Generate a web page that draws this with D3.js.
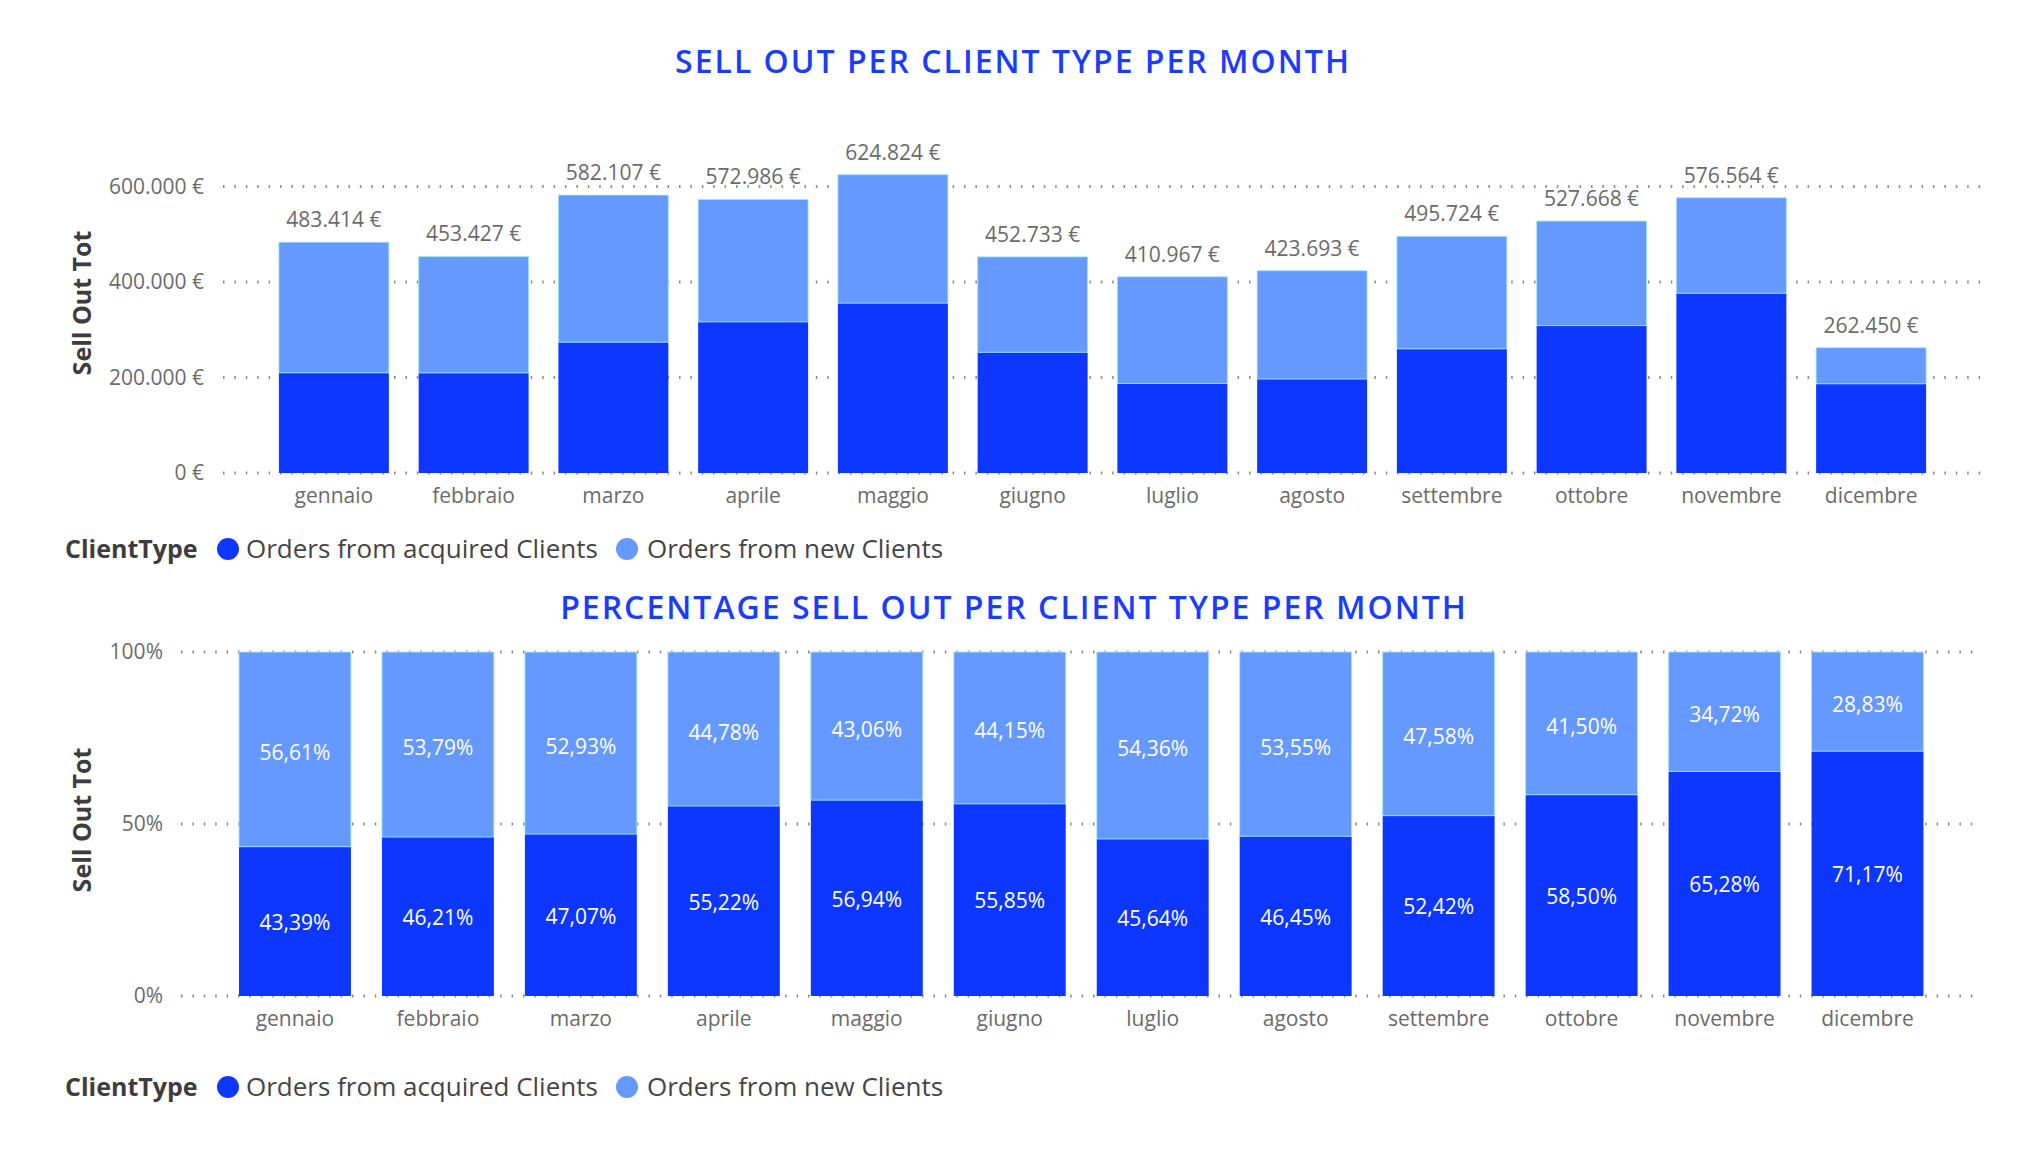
<!DOCTYPE html>
<html>
<head>
<meta charset="utf-8">
<script src="https://cdn.jsdelivr.net/npm/d3@7"></script>
<style>
  html, body { margin: 0; padding: 0; background: #ffffff; }
  svg { display: block; }
</style>
</head>
<body>
<svg id="chart" width="2033" height="1153"></svg>
<script>
// ---------------- DATA ----------------
const months = ["gennaio", "febbraio", "marzo", "aprile", "maggio", "giugno",
                "luglio", "agosto", "settembre", "ottobre", "novembre", "dicembre"];
const seriesNames = ["Orders from acquired Clients", "Orders from new Clients"];
const totals = [483414, 453427, 582107, 572986, 624824, 452733, 410967, 423693, 495724, 527668, 576564, 262450];
const acquiredValues = [209753, 209529, 273998, 316403, 355775, 252851, 187565, 196805, 259859, 308686, 376381, 186786];
const newValues = [273661, 243898, 308109, 256583, 269049, 199882, 223402, 226888, 235865, 218982, 200183, 75664];
const acquiredPct = [43.39, 46.21, 47.07, 55.22, 56.94, 55.85, 45.64, 46.45, 52.42, 58.50, 65.28, 71.17];
const newPct = [56.61, 53.79, 52.93, 44.78, 43.06, 44.15, 54.36, 53.55, 47.58, 41.50, 34.72, 28.83];
const valueTicks = [0, 200000, 400000, 600000];
const pctTicks = [0, 50, 100];

// ---------------- STYLE ----------------
const C_DARK = "#0d37ff", C_LIGHT = "#6699ff", C_TITLE = "#1a3cff";
const C_GRID = "#8a8a8a", C_TEXT = "#6b6b6b", C_DARKTEXT = "#3d3d3d";
const FONT = "'Open Sans', 'DejaVu Sans', sans-serif";

const locale = d3.formatLocale({decimal: ",", thousands: ".", grouping: [3], currency: ["", "\u00a0€"]});
const fmtEuro = v => locale.format(",.0f")(v) + " €";
const fmtPct = v => locale.format(".2f")(v) + "%";

const svg = d3.select("#chart").style("font-family", FONT);
const keys = ["acq", "new"];
const colors = {acq: C_DARK, new: C_LIGHT};

function title(text, cx, baseline) {
  svg.append("text").attr("x", cx).attr("y", baseline)
    .attr("text-anchor", "middle").attr("fill", C_TITLE)
    .style("font-size", "32px").style("font-weight", 600).style("letter-spacing", "2px")
    .text(text);
}
function yTitle(cx, cy) {
  svg.append("text").attr("transform", `translate(${cx},${cy}) rotate(-90)`)
    .attr("text-anchor", "middle").attr("fill", C_DARKTEXT)
    .style("font-size", "25px").style("font-weight", 700)
    .text("Sell Out Tot");
}
function legend(baseline) {
  const g = svg.append("g");
  g.append("text").attr("x", 65).attr("y", baseline).attr("fill", C_DARKTEXT)
    .style("font-size", "25px").style("font-weight", 700).text("ClientType");
  const items = [{name: seriesNames[0], col: C_DARK, cx: 228, tx: 246},
                 {name: seriesNames[1], col: C_LIGHT, cx: 627, tx: 647}];
  items.forEach(it => {
    g.append("circle").attr("cx", it.cx).attr("cy", baseline - 9).attr("r", 11).attr("fill", it.col);
    g.append("text").attr("x", it.tx).attr("y", baseline).attr("fill", "#454545")
      .style("font-size", "26px").text(it.name);
  });
}
function grid(y, ticks, x0, x1) {
  svg.append("g").selectAll("line").data(ticks).join("line")
    .attr("x1", x0).attr("x2", x1)
    .attr("y1", d => y(d)).attr("y2", d => y(d))
    .attr("stroke", C_GRID).attr("stroke-width", 3).attr("stroke-dasharray", "1.5 9.9");
}
function styleAxis(g) {
  g.select(".domain").remove();
  g.selectAll("text").attr("fill", C_TEXT).style("font-size", "21px").style("font-family", FONT);
}

// ---------------- CHART 1: stacked values ----------------
title("SELL OUT PER CLIENT TYPE PER MONTH", 1013, 73);
yTitle(91, 303);

const rows1 = months.map((m, i) => ({month: m, acq: acquiredValues[i], new: newValues[i], total: totals[i]}));
const x1 = d3.scaleBand().domain(months).range([223, 1982]).paddingInner(0.213).paddingOuter(0.4).align(0.5);
const y1 = d3.scaleLinear().domain([0, 600000]).range([473, 186.5]);

grid(y1, valueTicks, 223, 1982);

svg.append("g").attr("transform", "translate(223,0)")
  .call(d3.axisLeft(y1).tickValues(valueTicks).tickFormat(fmtEuro).tickSize(0).tickPadding(19))
  .call(styleAxis);

const stack1 = d3.stack().keys(keys)(rows1);
svg.append("g").selectAll("g").data(stack1).join("g")
  .attr("fill", d => colors[d.key])
  .selectAll("rect").data(d => d.map(p => Object.assign(p, {key: d.key}))).join("rect")
  .attr("x", d => x1(d.data.month)).attr("width", x1.bandwidth())
  .attr("y", d => y1(d[1])).attr("height", d => y1(d[0]) - y1(d[1]))
  .attr("stroke", d => d.key === "new" ? "#a4efe9" : "none").attr("stroke-width", 1).attr("stroke-opacity", 0.8);

svg.append("g").selectAll("text").data(rows1).join("text")
  .attr("x", d => x1(d.month) + x1.bandwidth() / 2).attr("y", d => y1(d.total) - 15)
  .attr("text-anchor", "middle").attr("fill", C_TEXT).style("font-size", "21px")
  .text(d => fmtEuro(d.total));

svg.append("g").attr("transform", "translate(0,473)")
  .call(d3.axisBottom(x1).tickSize(0).tickPadding(15))
  .call(styleAxis);

legend(558);

// ---------------- CHART 2: 100% stacked ----------------
title("PERCENTAGE SELL OUT PER CLIENT TYPE PER MONTH", 1014, 619);
yTitle(91, 820);

const rows2 = months.map((m, i) => ({month: m, acq: acquiredPct[i], new: newPct[i]}));
const x2 = d3.scaleBand().domain(months).range([181, 1977]).paddingInner(0.217).paddingOuter(0.39).align(0.52);
const y2 = d3.scaleLinear().domain([0, 100]).range([996, 652]);

grid(y2, pctTicks, 181, 1977);

svg.append("g").attr("transform", "translate(181,0)")
  .call(d3.axisLeft(y2).tickValues(pctTicks).tickFormat(d => d + "%").tickSize(0).tickPadding(18))
  .call(styleAxis);

const stack2 = d3.stack().keys(keys)(rows2);
const segs = svg.append("g").selectAll("g").data(stack2).join("g")
  .attr("fill", d => colors[d.key])
  .selectAll("g").data(d => d.map(p => Object.assign(p, {key: d.key}))).join("g");
segs.append("rect")
  .attr("x", d => x2(d.data.month)).attr("width", x2.bandwidth())
  .attr("y", d => y2(d[1])).attr("height", d => y2(d[0]) - y2(d[1]))
  .attr("stroke", d => d.key === "new" ? "#a4efe9" : "none").attr("stroke-width", 1).attr("stroke-opacity", 0.8);
segs.append("text")
  .attr("x", d => x2(d.data.month) + x2.bandwidth() / 2)
  .attr("y", d => (y2(d[0]) + y2(d[1])) / 2 + (d.key === "new" ? 3 : 1))
  .attr("dy", "0.36em")
  .attr("text-anchor", "middle").attr("fill", "#ffffff").style("font-size", "21px")
  .text(d => fmtPct(d.data[d.key]));

svg.append("g").attr("transform", "translate(0,996)")
  .call(d3.axisBottom(x2).tickSize(0).tickPadding(15))
  .call(styleAxis);

legend(1096);
</script>
</body>
</html>
